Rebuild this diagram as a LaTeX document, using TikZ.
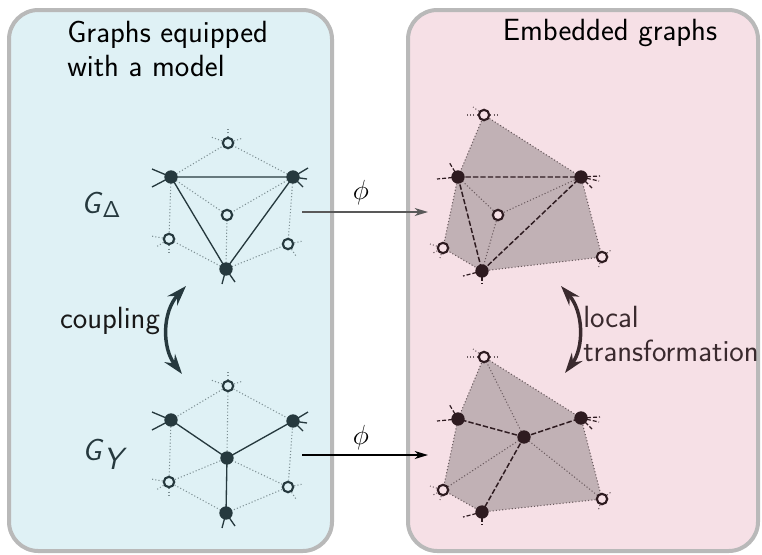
\documentclass[tikz,border=0pt]{standalone}
\usetikzlibrary{arrows.meta}
\definecolor{lbg}{HTML}{DFF1F5}
\definecolor{rbg}{HTML}{F6E0E6}
\definecolor{framec}{HTML}{B9B9B9}
\definecolor{slate}{HTML}{26393E}
\definecolor{maroonc}{HTML}{2E1B20}
\definecolor{polyc}{HTML}{C1B1B5}
\definecolor{ldot}{HTML}{7D8F93}
\definecolor{rdot}{HTML}{6A5A5E}
\definecolor{rtext}{HTML}{3A2A2E}
\begin{document}
\begin{tikzpicture}[x=0.75pt,y=-0.75pt,
  panel/.style={draw=framec,line width=3pt,rounded corners=22pt},
  txt/.style={font=\sffamily\fontsize{23}{25}\selectfont,inner sep=0pt},
  lfull/.style={circle,fill=slate,inner sep=0pt,minimum size=10pt},
  lhol/.style={circle,draw=slate,fill=lbg,line width=1.6pt,inner sep=0pt,minimum size=7.8pt},
  rfull/.style={circle,fill=maroonc,inner sep=0pt,minimum size=10pt},
  rhol/.style={circle,draw=maroonc,fill=rbg,line width=1.6pt,inner sep=0pt,minimum size=7.8pt},
  lsolid/.style={draw=slate,line width=1pt},
  ldotted/.style={draw=ldot,line width=0.8pt,dash pattern=on 0.8pt off 1.6pt},
  lstub/.style={draw=slate,line width=1pt},
  rdash/.style={draw=maroonc,line width=1.1pt,dash pattern=on 4pt off 1.6pt},
  rdotted/.style={draw=rdot,line width=0.8pt,dash pattern=on 0.8pt off 1.6pt},
  rstub/.style={draw=maroonc,line width=0.9pt,dash pattern=on 3pt off 1.5pt},
  phiarrow/.style={line width=1pt,-{Stealth[length=10pt,width=6pt,inset=3pt]}},
  bentarrow/.style={line width=2.6pt,{Stealth[length=15pt,width=10pt,inset=5pt]}-{Stealth[length=15pt,width=10pt,inset=5pt]}}
]
\path[use as bounding box] (0,0) rectangle (762,554);
% panels
\path[panel,fill=lbg] (9,10) rectangle (332,551);
\path[panel,fill=rbg] (408,10) rectangle (758,551);

% titles
\node[txt,anchor=west,align=left] (ttl) at (67,49) {Graphs equipped\\with a model};
\node[txt] (ttr) at (610,33) {Embedded graphs};

\node[txt,text=slate,anchor=base west] (gd) at (81,213) {\textit{G}$_{\mathsf{\Delta}}$};
\node[txt,text=slate,anchor=base west] (gy) at (82,460) {\textit{G}$_{\textsf{\textit{Y}}}$};

% ---------------- top-left graph ----------------
\coordinate (tla) at (171,177);
\coordinate (tlb) at (293,177);
\coordinate (tlc) at (226,269);
\coordinate (tlt) at (228,143);
\coordinate (tlm) at (227,215);
\coordinate (tll) at (169,239);
\coordinate (tlr) at (288,244);
\foreach \s in {(tlt),(tlm)} \draw[ldotted] (tla) -- \s;
\foreach \s in {(tlt),(tlm),(tlr)} \draw[ldotted] (tlb) -- \s;
\foreach \s in {(tlm),(tll),(tlr)} \draw[ldotted] (tlc) -- \s;
\draw[ldotted] (tla) -- (tll);
\foreach \d in {(0,-14),(-17,-6),(15,-5)} \draw[ldotted] (tlt) -- ++\d;
\foreach \d in {(-18,-3),(-13,8),(0,15)} \draw[ldotted] (tll) -- ++\d;
\foreach \d in {(15,-3),(8,12)} \draw[ldotted] (tlr) -- ++\d;
\draw[lsolid] (tla) -- (tlb) -- (tlc) -- cycle;
\foreach \d in {(-19,-8),(-19,10)} \draw[lstub] (tla) -- ++\d;
\foreach \d in {(15,-9),(14,2),(10,10)} \draw[lstub] (tlb) -- ++\d;
\foreach \d in {(-4,15),(9,13)} \draw[lstub] (tlc) -- ++\d;
\node[lfull] (TLA) at (tla) {};
\node[lfull] (TLB) at (tlb) {};
\node[lfull] (TLC) at (tlc) {};
\node[lhol] (TLT) at (tlt) {};
\node[lhol] (TLM) at (tlm) {};
\node[lhol] (TLL) at (tll) {};
\node[lhol] (TLR) at (tlr) {};

% ---------------- bottom-left graph ----------------
\coordinate (bla) at (171,420);
\coordinate (blb) at (293,421);
\coordinate (bld) at (227,458);
\coordinate (blc) at (226,513);
\coordinate (blt) at (228,386);
\coordinate (bll) at (169,482);
\coordinate (blr) at (288,487);
\foreach \s in {(bla),(blb),(bld)} \draw[ldotted] (blt) -- \s;
\foreach \s in {(bla),(bld),(blc)} \draw[ldotted] (bll) -- \s;
\foreach \s in {(blb),(bld),(blc)} \draw[ldotted] (blr) -- \s;
\foreach \d in {(0,-14),(-17,-6),(15,-5)} \draw[ldotted] (blt) -- ++\d;
\foreach \d in {(-18,-3),(-13,8),(0,15)} \draw[ldotted] (bll) -- ++\d;
\foreach \d in {(15,-3),(8,12)} \draw[ldotted] (blr) -- ++\d;
\foreach \s in {(bla),(blb),(blc)} \draw[lsolid] (bld) -- \s;
\foreach \d in {(-19,-8),(-19,10)} \draw[lstub] (bla) -- ++\d;
\foreach \d in {(15,-9),(14,2),(10,10)} \draw[lstub] (blb) -- ++\d;
\foreach \d in {(-4,15),(9,13)} \draw[lstub] (blc) -- ++\d;
\node[lfull] (BLA) at (bla) {};
\node[lfull] (BLB) at (blb) {};
\node[lfull] (BLD) at (bld) {};
\node[lfull] (BLC) at (blc) {};
\node[lhol] (BLT) at (blt) {};
\node[lhol] (BLL) at (bll) {};
\node[lhol] (BLR) at (blr) {};

% ---------------- top-right graph ----------------
\coordinate (tra) at (458,177);
\coordinate (trb) at (581,177);
\coordinate (trc) at (482,271);
\coordinate (trt) at (484,115);
\coordinate (trm) at (498,215);
\coordinate (trl) at (443,248);
\coordinate (trr) at (602,257);
\path[fill=polyc] (trt) -- (trb) -- (trr) -- (trc) -- (trl) -- (tra) -- cycle;
\draw[rdotted] (trt) -- (trb) -- (trr) -- (trc) -- (trl) -- (tra) -- cycle;
\foreach \s in {(tra),(trb),(trc)} \draw[rdotted] (trm) -- \s;
\foreach \d in {(-11,-8),(-19,0),(13,0)} \draw[rdotted] (trt) -- ++\d;
\foreach \d in {(-13,-4),(-10,5),(-3,10)} \draw[rdotted] (trl) -- ++\d;
\foreach \d in {(9,-7),(-4,12)} \draw[rdotted] (trr) -- ++\d;
\draw[rdash] (tra) -- (trb) -- (trc) -- cycle;
\foreach \d in {(-9,-15),(-21,2)} \draw[rstub] (tra) -- ++\d;
\foreach \d in {(19,-1),(18,4),(11,11)} \draw[rstub] (trb) -- ++\d;
\foreach \d in {(-19,5),(0,13)} \draw[rstub] (trc) -- ++\d;
\node[rfull] (TRA) at (tra) {};
\node[rfull] (TRB) at (trb) {};
\node[rfull] (TRC) at (trc) {};
\node[rhol] (TRT) at (trt) {};
\node[rhol] (TRM) at (trm) {};
\node[rhol] (TRL) at (trl) {};
\node[rhol] (TRR) at (trr) {};

% ---------------- bottom-right graph ----------------
\coordinate (bra) at (458,419);
\coordinate (brb) at (581,418);
\coordinate (brd) at (524,437);
\coordinate (brc) at (482,512);
\coordinate (brt) at (484,357);
\coordinate (brl) at (443,490);
\coordinate (brr) at (602,499);
\path[fill=polyc] (brt) -- (brb) -- (brr) -- (brc) -- (brl) -- (bra) -- cycle;
\draw[rdotted] (brt) -- (brb) -- (brr) -- (brc) -- (brl) -- (bra) -- cycle;
\foreach \s in {(brt),(brl),(brr)} \draw[rdotted] (brd) -- \s;
\foreach \d in {(-11,-8),(-19,0),(13,0)} \draw[rdotted] (brt) -- ++\d;
\foreach \d in {(-13,-4),(-10,5),(-3,10)} \draw[rdotted] (brl) -- ++\d;
\foreach \d in {(9,-7),(-4,12)} \draw[rdotted] (brr) -- ++\d;
\foreach \s in {(bra),(brb),(brc)} \draw[rdash] (brd) -- \s;
\foreach \d in {(-9,-15),(-21,2)} \draw[rstub] (bra) -- ++\d;
\foreach \d in {(19,-1),(18,4),(11,11)} \draw[rstub] (brb) -- ++\d;
\foreach \d in {(-19,5),(0,13)} \draw[rstub] (brc) -- ++\d;
\node[rfull] (BRA) at (bra) {};
\node[rfull] (BRB) at (brb) {};
\node[rfull] (BRD) at (brd) {};
\node[rfull] (BRC) at (brc) {};
\node[rhol] (BRT) at (brt) {};
\node[rhol] (BRL) at (brl) {};
\node[rhol] (BRR) at (brr) {};

% ---------------- phi arrows ----------------
\coordinate (p1s) at (302,212);
\coordinate (p1e) at (428,212);
\coordinate (p2s) at (302,455);
\coordinate (p2e) at (428,455);
\draw[phiarrow,draw=black!65] (p1s) -- (p1e);
\draw[phiarrow,draw=black] (p2s) -- (p2e);
\node[font=\fontsize{21}{24}\selectfont,inner sep=0pt] (phi1) at (361,193) {$\phi$};
\node[font=\fontsize{21}{24}\selectfont,inner sep=0pt] (phi2) at (361,438) {$\phi$};

% ---------------- coupling ----------------
\coordinate (ct) at (186,286);
\coordinate (cb) at (182,374);
\draw[bentarrow,draw=slate] (ct) .. controls (162,312) and (162,348) .. (cb);
\node[txt,text=black!90] (coup) at (110,321) {coupling};

% ---------------- local transformation ----------------
\coordinate (lt) at (561,286);
\coordinate (lb) at (565,373);
\draw[bentarrow,draw=rtext] (lt) .. controls (584,312) and (584,348) .. (lb);
\node[txt,text=rtext,anchor=west,align=left] (loc) at (583,334) {local\\transformation};
\end{tikzpicture}
\end{document}
